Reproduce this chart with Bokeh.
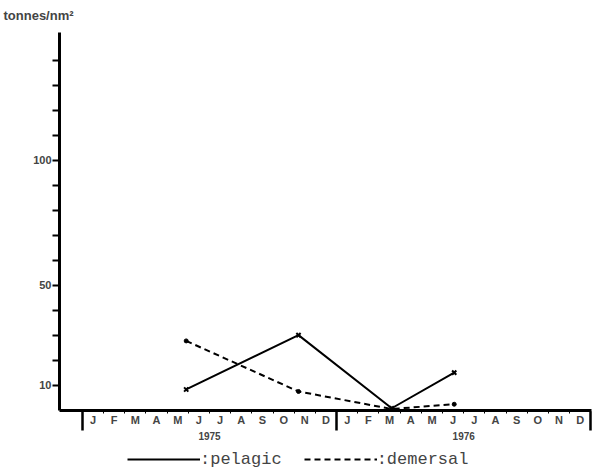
from bokeh.plotting import figure
from bokeh.layouts import column
from bokeh.models import (Range1d, LinearAxis, FixedTicker, CustomJSTickFormatter,
                          Legend, LegendItem)
from bokeh.embed import file_html
from bokeh.resources import INLINE

# ---- data (months counted from 1 Jan 1975) ----
survey_month = [4.9, 10.2, 14.6, 17.55]
pelagic = [8.4, 30.1, 0.9, 15.1]
demersal = [27.8, 7.6, 0.6, 2.5]

month_letters = ["J", "F", "M", "A", "M", "J", "J", "A", "S", "O", "N", "D"]
years = ["1975", "1976"]
y_tick_values = [10, 20, 30, 40, 50, 60, 70, 80, 90, 100, 110, 120, 130, 140]
y_tick_labels = ["10", "", "", "", "50", "", "", "", "", "100", "", "", "", ""]
series_labels = [":pelagic", ":demersal"]

LBL_FONT = "Liberation Sans"

p = figure(width=595, height=448, x_range=Range1d(-1.08, 24.03), y_range=Range1d(0, 151),
           output_backend="svg", toolbar_location=None, x_axis_type=None, y_axis_type=None,
           min_border_left=59, min_border_right=4, min_border_top=30, min_border_bottom=38)
p.xgrid.visible = False
p.ygrid.visible = False
p.outline_line_color = None
p.background_fill_color = "white"

p.title.text = "tonnes/nm²"
p.title.text_font = LBL_FONT
p.title.text_font_size = "13px"
p.title.text_font_style = "bold"
p.title.align = "left"
p.title.vertical_align = "top"
p.title.offset = -56
p.title.standoff = 15

# y axis
yax = LinearAxis(ticker=FixedTicker(ticks=y_tick_values),
                 major_label_overrides=dict(zip(y_tick_values, y_tick_labels)))
yax.axis_line_width = 3
yax.major_tick_in = 0
yax.major_tick_out = 7
yax.major_tick_line_width = 2
yax.major_label_standoff = 1
yax.major_label_text_font = LBL_FONT
yax.major_label_text_font_style = "bold"
yax.major_label_text_font_size = "11px"
p.add_layout(yax, "left")

# x axis: months
n_months = 12 * len(years)
month_centers = [m + 0.5 for m in range(n_months)]
month_bounds = [m for m in range(1, n_months) if m % 12 != 0]
xax = LinearAxis(ticker=FixedTicker(ticks=month_centers, minor_ticks=month_bounds),
                 formatter=CustomJSTickFormatter(args=dict(labs=month_letters),
                                                 code="return labs[Math.floor(tick) % 12]"))
xax.axis_line_width = 3
xax.major_tick_in = 0
xax.major_tick_out = 0
xax.minor_tick_in = 0
xax.minor_tick_out = 3
xax.major_label_standoff = 0
xax.major_label_text_font = LBL_FONT
xax.major_label_text_font_style = "bold"
xax.major_label_text_font_size = "11px"
p.add_layout(xax, "below")

# x axis: years with separators
yr_centers = [12 * i + 6 for i in range(len(years))]
yr_bounds = [12 * i for i in range(len(years) + 1)]
yrax = LinearAxis(ticker=FixedTicker(ticks=yr_centers, minor_ticks=yr_bounds),
                  formatter=CustomJSTickFormatter(args=dict(yrs=years),
                                                  code="return yrs[Math.floor(tick / 12)]"))
yrax.axis_line_color = None
yrax.major_tick_in = 0
yrax.major_tick_out = 0
yrax.minor_tick_in = 17
yrax.minor_tick_out = 2
yrax.minor_tick_line_width = 2.5
yrax.major_label_standoff = 1
yrax.major_label_text_font = LBL_FONT
yrax.major_label_text_font_style = "bold"
yrax.major_label_text_font_size = "10px"
p.add_layout(yrax, "below")

# series
pel_style = dict(line_color="black", line_width=2)
dem_style = dict(line_color="black", line_width=2, line_dash="6 4")
p.line(survey_month, pelagic, **pel_style)
p.scatter(survey_month, pelagic, marker="x", size=6, line_color="black", line_width=2)
p.line(survey_month, demersal, **dem_style)
p.scatter(survey_month, demersal, marker="circle", size=4, color="black")

# legend strip below the chart (its own renderers fall outside its ranges)
lf = figure(width=595, height=21, x_range=Range1d(0, 1), y_range=Range1d(-1, 0),
            output_backend="svg", toolbar_location=None, x_axis_type=None, y_axis_type=None,
            min_border_left=0, min_border_right=0, min_border_top=0, min_border_bottom=0)
lf.xgrid.visible = False
lf.ygrid.visible = False
lf.outline_line_color = None
lr_pel = lf.line(survey_month, pelagic, **pel_style)
lr_dem = lf.line(survey_month, demersal, **dem_style)
legend = Legend(items=[LegendItem(label=series_labels[0], renderers=[lr_pel]),
                       LegendItem(label=series_labels[1], renderers=[lr_dem])],
                orientation="horizontal", location=(68, 0))
legend.glyph_width = 73
legend.glyph_height = 20
legend.label_standoff = 0
legend.spacing = 22
legend.padding = 0
legend.margin = 0
legend.border_line_color = None
legend.background_fill_alpha = 0
legend.label_text_font = "Liberation Mono"
legend.label_text_font_size = "17px"
legend.label_height = 16
lf.add_layout(legend, "center")

layout = column(p, lf, spacing=0)
open("out.html", "w").write(file_html(layout, INLINE))
